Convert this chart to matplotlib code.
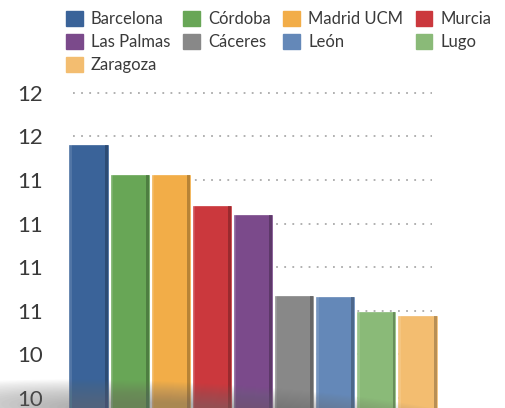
import numpy as np
import matplotlib
matplotlib.use("Agg")
import matplotlib.pyplot as plt
from matplotlib.patches import Ellipse

plt.rcParams['font.family'] = ['Lato', 'DejaVu Sans']

ciudades = ["Barcelona", "Córdoba", "Madrid UCM", "Murcia", "Las Palmas",
            "Cáceres", "León", "Lugo", "Zaragoza"]
valores = [11.45, 11.28, 11.28, 11.10, 11.05, 10.585, 10.58, 10.495, 10.47]
colores = ["#3a6399", "#68a656", "#f2ad48", "#cb383d", "#7b4a8b",
           "#888888", "#6488b8", "#8aba78", "#f3bd70"]
ticks = [10.0, 10.25, 10.5, 10.75, 11.0, 11.25, 11.5, 11.75]
tick_labels = ["10", "10", "11", "11", "11", "11", "12", "12"]

W, H = 506, 408
fig = plt.figure(figsize=(W / 100, H / 100), dpi=100)

# sombra difusa bajo las barras
for i in range(22):
    e = Ellipse((1.95, -0.06), 5.8 - i * 0.16, 0.62 - i * 0.02, angle=-3.0,
                transform=fig.dpi_scale_trans, color="#707070", alpha=0.03,
                lw=0, zorder=0)
    fig.patches.append(e)

ax = fig.add_axes([68 / W, 0, 370 / W, 320 / H])
ax.patch.set_visible(False)
x = np.arange(len(ciudades))
base = 9.9
alturas = np.array(valores) - base
ax.bar(x, alturas, bottom=base, width=0.93, color=colores,
       edgecolor=colores, linewidth=0.5, zorder=3)
# borde derecho oscuro (relieve)
oscuros = [tuple(np.array(matplotlib.colors.to_rgb(c)) * 0.6) for c in colores]
ax.bar(x + 0.93 / 2 - 0.035, alturas, bottom=base, width=0.07,
       color=oscuros, alpha=0.6, linewidth=0, zorder=4)
# brillo izquierdo
ax.bar(x - 0.93 / 2 + 0.03, alturas, bottom=base, width=0.06,
       color="white", alpha=0.12, linewidth=0, zorder=4)

# lineas de guia punteadas (algo mas cortas que el eje)
ax.hlines(ticks, -0.38, len(ciudades) - 0.65, linestyles=(0, (1, 3.5)),
          colors="#aaaaaa", linewidth=1.3, zorder=1)

ax.set_xlim(-0.5, len(ciudades) - 0.5)
ax.set_ylim(9.9427, 11.7775)
ax.set_yticks(ticks)
ax.set_yticklabels(tick_labels)
ax.set_xticks([])
ax.tick_params(axis="y", length=0, pad=18, labelsize=16, labelcolor="#3a3a3a")
for s in ax.spines.values():
    s.set_visible(False)

orden = [0, 4, 8, 1, 5, 2, 6, 3, 7]
handles = [plt.Rectangle((0, 0), 1, 1, color=colores[i]) for i in orden]
labels = [ciudades[i] for i in orden]
fig.legend(handles, labels, loc="upper left", bbox_to_anchor=(66 / W, 1 - 11 / H),
           ncol=4, frameon=False, fontsize=12, handlelength=1.0,
           handleheight=1.0, handletextpad=0.5, columnspacing=0.75,
           labelspacing=0.4, borderpad=0, borderaxespad=0,
           labelcolor="#3a3a3a")

fig.savefig("out.png", dpi=100)
